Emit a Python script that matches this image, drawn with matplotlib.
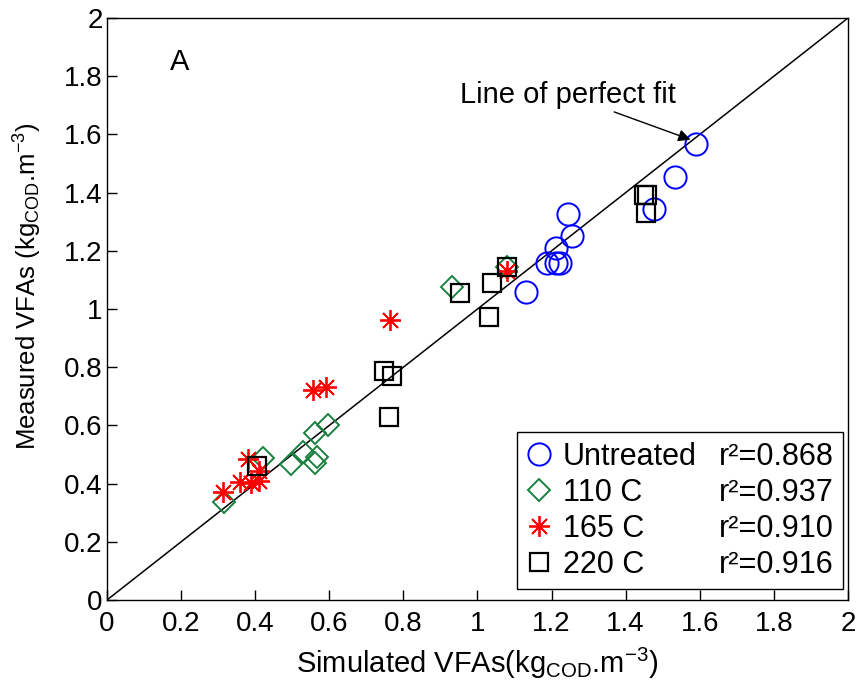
import numpy as np
import matplotlib.pyplot as plt
from matplotlib.lines import Line2D

plt.rcParams['font.family'] = ['Liberation Sans', 'DejaVu Sans']
plt.rcParams['mathtext.default'] = 'regular'

# simulated (x) vs measured (y) VFAs
untreated_x = [1.589, 1.533, 1.476, 1.243, 1.256, 1.213, 1.187, 1.213, 1.222, 1.131]
untreated_y = [1.566, 1.454, 1.344, 1.327, 1.251, 1.208, 1.157, 1.157, 1.157, 1.057]

c110_x = [1.079, 0.930, 0.597, 0.561, 0.530, 0.566, 0.561, 0.498, 0.420, 0.316]
c110_y = [1.145, 1.074, 0.601, 0.573, 0.510, 0.493, 0.470, 0.467, 0.487, 0.338]

c165_x = [1.079, 0.765, 0.557, 0.591, 0.381, 0.411, 0.359, 0.390, 0.411, 0.312]
c165_y = [1.130, 0.962, 0.722, 0.733, 0.483, 0.443, 0.407, 0.401, 0.410, 0.372]

c220_x = [1.449, 1.457, 1.456, 1.079, 1.038, 0.954, 1.030, 0.748, 0.770, 0.761, 0.405]
c220_y = [1.392, 1.391, 1.331, 1.146, 1.091, 1.054, 0.974, 0.787, 0.770, 0.630, 0.462]

labels = ['Untreated', '110 C', '165 C', '220 C']
r2 = ['0.868', '0.937', '0.910', '0.916']

ticks = [0, 0.2, 0.4, 0.6, 0.8, 1, 1.2, 1.4, 1.6, 1.8, 2]
tick_labels = ['0', '0.2', '0.4', '0.6', '0.8', '1', '1.2', '1.4', '1.6', '1.8', '2']

green = '#1a8040'
star = (8, 2, 0)

fig = plt.figure(figsize=(8.58, 6.88), dpi=100)
ax = fig.add_axes([0.1247, 0.1279, 0.8636, 0.8459])

ax.plot([0, 2], [0, 2], color='black', linewidth=1.1, zorder=1)

h1, = ax.plot(untreated_x, untreated_y, linestyle='none', marker='o', markersize=16,
              markerfacecolor='none', markeredgecolor='blue', markeredgewidth=1.4)
h2, = ax.plot(c110_x, c110_y, linestyle='none', marker='D', markersize=11,
              markerfacecolor='none', markeredgecolor=green, markeredgewidth=1.4)
h3, = ax.plot(c165_x, c165_y, linestyle='none', marker=star, markersize=15,
              color='red', markeredgewidth=1.3)
h4, = ax.plot(c220_x, c220_y, linestyle='none', marker='s', markersize=13,
              markerfacecolor='none', markeredgecolor='black', markeredgewidth=1.6)

ax.set_xlim(0, 2)
ax.set_ylim(0, 2)
ax.set_xticks(ticks)
ax.set_xticklabels(tick_labels)
ax.set_yticks(ticks)
ax.set_yticklabels(tick_labels)
ax.tick_params(direction='in', length=7, width=1, labelsize=20)
ax.tick_params(axis='x', pad=8)
ax.tick_params(axis='y', pad=3)
for s in ax.spines.values():
    s.set_linewidth(1)

ax.set_xlabel('Simulated VFAs(kg$_{COD}$.m$^{-3}$)', fontsize=21, labelpad=6)
ax.set_ylabel('Measured VFAs (kg$_{COD}$.m$^{-3}$)', fontsize=18.5)
ax.yaxis.set_label_coords(-0.085, 0.54)

ax.text(0.17, 1.85, 'A', fontsize=21, va='center')
ann = ax.annotate('Line of perfect fit', xy=(1.575, 1.582), xytext=(0.953, 1.735),
                  fontsize=21, va='center', ha='left',
                  arrowprops=dict(arrowstyle='-|>', color='black', lw=1, mutation_scale=18,
                                  shrinkA=0, shrinkB=0))
# arrow starts below the text
ann.arrow_patch.set_positions((1.325, 1.672), (1.575, 1.582))

blank = Line2D([], [], linestyle='none')
handles = [h1, h2, h3, h4] + [blank] * 4
leg_labels = labels + ['r\u00b2=' + v for v in r2]
leg = ax.legend(handles, leg_labels, ncol=2, loc='lower right', fontsize=22,
                bbox_to_anchor=(0.9933, 0.0189), borderaxespad=0,
                frameon=True, fancybox=False, edgecolor='black', framealpha=1,
                handlelength=0.8, handletextpad=0.4, columnspacing=-0.48,
                labelspacing=0.2, borderpad=0.3, numpoints=1)
leg.get_frame().set_linewidth(1)

fig.savefig('out.png', dpi=100)
